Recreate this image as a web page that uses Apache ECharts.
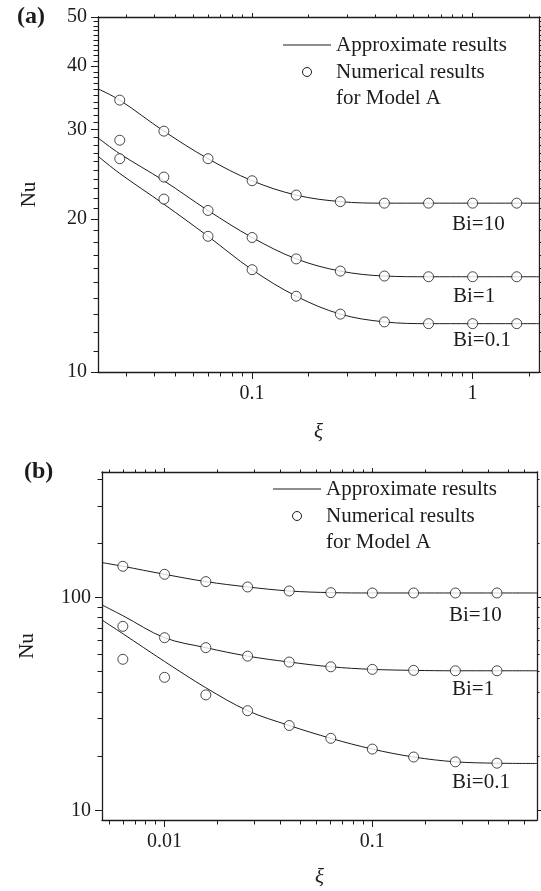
<!DOCTYPE html>
<html>
<head>
<meta charset="utf-8">
<script src="https://cdn.jsdelivr.net/npm/echarts@6/dist/echarts.min.js"></script>
<style>
html, body { margin: 0; padding: 0; background: #fff; }
#chart { width: 541px; height: 891px; }
</style>
</head>
<body>
<div id="chart"></div>
<script>
// ---- panel (a) ----
const xiLineA = [0.02, 0.0251, 0.0398, 0.0631, 0.1, 0.1585, 0.2512, 0.3981, 0.631, 1, 1.585, 2];
const approxA_Bi10 = [36.1, 34.3, 29.8, 26.3, 23.8, 22.3, 21.65, 21.5, 21.5, 21.5, 21.5, 21.5];
const approxA_Bi1 = [28.9, 26.9, 23.8, 20.8, 18.4, 16.7, 15.8, 15.45, 15.4, 15.4, 15.4, 15.4];
const approxA_Bi01 = [26.6, 24.6, 21.4, 18.5, 15.9, 14.1, 13.0, 12.55, 12.45, 12.45, 12.45, 12.45];

const xiPtsA = [0.0251, 0.0398, 0.0631, 0.1, 0.1585, 0.2512, 0.3981, 0.631, 1, 1.585];
const numA_Bi10 = [34.3, 29.8, 26.3, 23.8, 22.3, 21.65, 21.5, 21.5, 21.5, 21.5];
const numA_Bi1 = [28.6, 24.2, 20.8, 18.4, 16.7, 15.8, 15.45, 15.4, 15.4, 15.4];
const numA_Bi01 = [26.3, 21.9, 18.5, 15.9, 14.1, 13.0, 12.55, 12.45, 12.45, 12.45];

const xMajorA = [0.1, 1];
const xMinorA = [0.027, 0.036, 0.045, 0.054, 0.063, 0.072, 0.081, 0.09,
  0.18, 0.27, 0.36, 0.45, 0.54, 0.63, 0.72, 0.81, 0.9, 1.8];
const yMajorA = [10, 20, 30, 40, 50];
const yMinorA = [];
for (let v = 11; v < 50; v++) if (v % 10) yMinorA.push(v);

// ---- panel (b) ----
const xiLineB = [0.005, 0.0063, 0.01, 0.0158, 0.0251, 0.0398, 0.0631, 0.1, 0.158, 0.251, 0.398, 0.62];
const approxB_Bi10 = [146.2, 140.5, 128.8, 119, 112.3, 107.5, 105.6, 105.2, 105.2, 105.2, 105.2, 105.2];
const approxB_Bi1 = [92.4, 82.3, 64.8, 58.2, 53.1, 49.8, 47.3, 46.0, 45.5, 45.3, 45.3, 45.3];
const approxB_Bi01 = [78.5, 67.7, 50.1, 37.7, 29.4, 25.05, 21.8, 19.4, 17.8, 16.9, 16.65, 16.6];

const xiPtsB = [0.0063, 0.01, 0.0158, 0.0251, 0.0398, 0.0631, 0.1, 0.158, 0.251, 0.398];
const numB_Bi10 = [140.5, 128.8, 119, 112.3, 107.5, 105.6, 105.2, 105.2, 105.2, 105.2];
const numB_Bi1 = [73.3, 64.8, 58.2, 53.1, 49.8, 47.3, 46.0, 45.5, 45.3, 45.3];
const numB_Bi01 = [51.3, 42.2, 34.9, 29.4, 25.05, 21.8, 19.4, 17.8, 16.9, 16.65];

const xMajorB = [0.01, 0.1];
const xMinorB = [0.0054, 0.0063, 0.0072, 0.0081, 0.009,
  0.018, 0.027, 0.036, 0.045, 0.054, 0.063, 0.072, 0.081, 0.09,
  0.18, 0.27, 0.36, 0.45, 0.54];
const yMajorB = [10, 100];
const yMinorB = [18, 27, 36, 45, 54, 63, 72, 81, 90, 180, 270, 360];

const FONT = 'Liberation Serif';
const INK = '#1c1c1c';

function zip(xs, ys) {
  return xs.map((x, i) => [x, ys[i]]);
}

// 4 overlapping axes per direction: major/minor ticks on both sides
function makeAxes(dim, gridIndex, min, max, major, minor, name, nameGap) {
  const main = dim === 'x' ? 'bottom' : 'left';
  const mirror = dim === 'x' ? 'top' : 'right';
  const base = {
    type: 'log', logBase: 10, gridIndex, min, max,
    splitLine: { show: false },
    axisLine: { show: false },
    axisLabel: { show: false },
  };
  const tick = (vals, len) => ({
    show: true, inside: false, length: len, customValues: vals,
    lineStyle: { color: INK, width: 1 },
  });
  return [
    Object.assign({}, base, {
      position: main,
      axisLine: { show: true, onZero: false, lineStyle: { color: INK, width: 1.3 } },
      axisTick: tick(major, 7),
      axisLabel: {
        show: true, customValues: major, margin: dim === 'x' ? 12 : 11,
        fontFamily: FONT, fontSize: 20, color: INK,
      },
      name, nameLocation: 'middle', nameGap,
      nameRotate: dim === 'y' ? 90 : 0,
      nameTextStyle: {
        fontFamily: FONT, fontSize: 21, color: INK,
        fontStyle: dim === 'x' ? 'italic' : 'normal',
      },
    }),
    Object.assign({}, base, { position: main, axisTick: tick(minor, 4.5) }),
    Object.assign({}, base, {
      position: mirror,
      axisLine: { show: true, onZero: false, lineStyle: { color: INK, width: 1.3 } },
      axisTick: tick(major, 4),
    }),
    Object.assign({}, base, { position: mirror, axisTick: tick(minor, 2.5) }),
  ];
}

const xAxis = [
  ...makeAxes('x', 0, 0.02, 2, xMajorA, xMinorA, 'ξ', 50),
  ...makeAxes('x', 1, 0.005, 0.62, xMajorB, xMinorB, 'ξ', 47),
];
const yAxis = [
  ...makeAxes('y', 0, 10, 50, yMajorA, yMinorA, 'Nu', 58),
  ...makeAxes('y', 1, 9, 390, yMajorB, yMinorB, 'Nu', 64),
];

function lineSeries(xi, vals, xIdx, yIdx) {
  return {
    type: 'line', xAxisIndex: xIdx, yAxisIndex: yIdx,
    data: zip(xi, vals), smooth: 0.35, showSymbol: false,
    lineStyle: { color: INK, width: 1 }, z: 2, silent: true,
  };
}
function pointSeries(xi, vals, xIdx, yIdx) {
  return {
    type: 'scatter', xAxisIndex: xIdx, yAxisIndex: yIdx,
    data: zip(xi, vals), symbol: 'circle', symbolSize: 10,
    itemStyle: { color: '#fff', borderColor: INK, borderWidth: 1 }, z: 3,
  };
}

const series = [
  lineSeries(xiLineA, approxA_Bi10, 0, 0),
  lineSeries(xiLineA, approxA_Bi1, 0, 0),
  lineSeries(xiLineA, approxA_Bi01, 0, 0),
  pointSeries(xiPtsA, numA_Bi10, 0, 0),
  pointSeries(xiPtsA, numA_Bi1, 0, 0),
  pointSeries(xiPtsA, numA_Bi01, 0, 0),
  lineSeries(xiLineB, approxB_Bi10, 4, 4),
  lineSeries(xiLineB, approxB_Bi1, 4, 4),
  lineSeries(xiLineB, approxB_Bi01, 4, 4),
  pointSeries(xiPtsB, numB_Bi10, 4, 4),
  pointSeries(xiPtsB, numB_Bi1, 4, 4),
  pointSeries(xiPtsB, numB_Bi01, 4, 4),
];

function txt(x, y, text, extra) {
  return {
    type: 'text', x, y,
    style: Object.assign({
      text, fontFamily: FONT, fontSize: 21, fill: INK,
      verticalAlign: 'middle', align: 'left',
    }, extra || {}),
  };
}
function legendBlock(x0, y0) {
  return [
    { type: 'line', shape: { x1: x0, y1: y0, x2: x0 + 48, y2: y0 }, style: { stroke: INK, lineWidth: 1 } },
    txt(x0 + 53, y0, 'Approximate results'),
    { type: 'circle', shape: { cx: x0 + 24, cy: y0 + 27, r: 4.5 }, style: { fill: '#fff', stroke: INK, lineWidth: 1 } },
    txt(x0 + 53, y0 + 27, 'Numerical results'),
    txt(x0 + 53, y0 + 53, 'for Model A'),
  ];
}

const graphic = [
  txt(17, 17, '(a)', { fontWeight: 'bold', fontSize: 24 }),
  txt(24, 472, '(b)', { fontWeight: 'bold', fontSize: 24 }),
  ...legendBlock(283, 45),
  ...legendBlock(273, 489),
  txt(452, 224, 'Bi=10'),
  txt(453, 296, 'Bi=1'),
  txt(453, 340, 'Bi=0.1'),
  txt(449, 615, 'Bi=10'),
  txt(452, 689, 'Bi=1'),
  txt(452, 782, 'Bi=0.1'),
];

const chart = echarts.init(document.getElementById('chart'), null, { renderer: 'canvas' });
chart.setOption({
  backgroundColor: '#fff',
  animation: false,
  grid: [
    { left: 98, top: 17, width: 441, height: 355, containLabel: false, outerBoundsMode: 'none' },
    { left: 102, top: 472, width: 435, height: 348, containLabel: false, outerBoundsMode: 'none' },
  ],
  xAxis,
  yAxis,
  series,
  graphic,
});
</script>
</body>
</html>
